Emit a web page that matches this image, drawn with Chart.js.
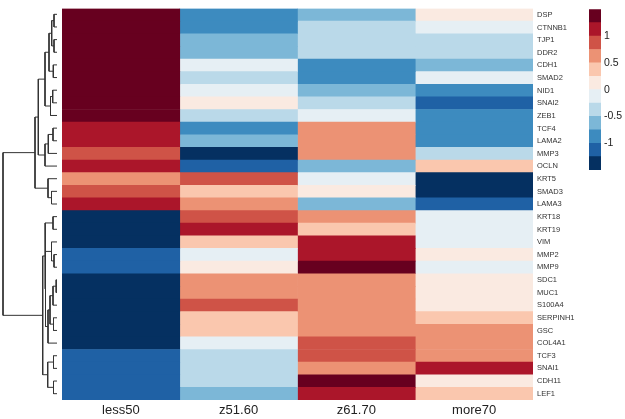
<!DOCTYPE html>
<html>
<head>
<meta charset="utf-8">
<script src="https://cdn.jsdelivr.net/npm/chart.js@4/dist/chart.umd.min.js"></script>
<style>
  html, body { margin: 0; padding: 0; background: #fff; }
  #wrap { position: relative; width: 625px; height: 419px; }
  #wrap canvas { position: absolute; left: 0; top: 0; }
</style>
</head>
<body>
<div id="wrap">
  <canvas id="heat" width="625" height="419"></canvas>
  <canvas id="tree" width="625" height="419"></canvas>
  <canvas id="key" width="625" height="419"></canvas>
</div>
<script>
const groups = ['less50', 'z51.60', 'z61.70', 'more70'];
const genes = ['DSP', 'CTNNB1', 'TJP1', 'DDR2', 'CDH1', 'SMAD2', 'NID1', 'SNAI2', 'ZEB1', 'TCF4',
  'LAMA2', 'MMP3', 'OCLN', 'KRT5', 'SMAD3', 'LAMA3', 'KRT18', 'KRT19', 'VIM', 'MMP2', 'MMP9',
  'SDC1', 'MUC1', 'S100A4', 'SERPINH1', 'GSC', 'COL4A1', 'TCF3', 'SNAI1', 'CDH11', 'LEF1'];

// row-scaled values, one list per group (same order as genes)
const less50 = [1.4, 1.4, 1.4, 1.4, 1.4, 1.4, 1.4, 1.4, 1.4, 1.1, 1.1, 0.9, 1.1, 0.6, 0.9, 1.1,
  -1.4, -1.4, -1.4, -1.1, -1.1, -1.4, -1.4, -1.4, -1.4, -1.4, -1.4, -1.1, -1.1, -1.1, -1.1];
const z51_60 = [-0.9, -0.9, -0.6, -0.6, -0.1, -0.4, -0.1, 0.1, -0.4, -0.9, -0.6, -1.4, -1.1, 0.9, 0.4, 0.6,
  0.9, 1.1, 0.4, -0.1, 0.1, 0.6, 0.6, 0.9, 0.4, 0.4, -0.1, -0.4, -0.4, -0.4, -0.6];
const z61_70 = [-0.6, -0.4, -0.4, -0.4, -0.9, -0.9, -0.6, -0.4, -0.1, 0.6, 0.6, 0.6, -0.6, -0.1, 0.1, -0.6,
  0.6, 0.4, 1.1, 1.1, 1.4, 0.6, 0.6, 0.6, 0.6, 0.6, 0.9, 0.9, 0.6, 1.4, 1.1];
const more70 = [0.1, -0.1, -0.4, -0.4, -0.6, -0.1, -0.9, -1.1, -0.9, -0.9, -0.9, -0.4, 0.4, -1.4, -1.4, -1.1,
  -0.1, -0.1, -0.1, 0.1, -0.1, 0.1, 0.1, 0.1, 0.4, 0.6, 0.6, 0.6, 1.1, 0.1, 0.4];

// colour key
const keyBreaks = [-1.5, -1.25, -1, -0.75, -0.5, -0.25, 0, 0.25, 0.5, 0.75, 1, 1.25, 1.5];
const keyColors = ['#053061', '#1f61a5', '#3d8bbf', '#7cb7d7', '#bad9e9', '#e6eff4',
  '#faeae1', '#fac7ae', '#ec9274', '#cf5347', '#ab162a', '#67001f'];
const keyTicks = [-1, -0.5, 0, 0.5, 1];

// row dendrogram, hclust style: negative = gene (1-based), positive = earlier merge
const merges = [
  [-1, -2, 0.3], [-3, -4, 0.3], [1, 2, 0.53], [-5, -6, 0.37], [3, 4, 0.8],
  [-7, -8, 0.43], [6, -9, 0.65], [5, 7, 1.2], [-10, -11, 0.4], [9, -12, 0.87],
  [10, -13, 1.2], [8, 11, 1.87], [-15, -16, 0.55], [-14, 13, 0.9], [12, 14, 2.2],
  [-17, -18, 0.4], [-20, -21, 0.3], [-19, 17, 0.55], [-22, -23, 0.08], [19, -24, 0.4],
  [-25, -26, 0.35], [20, 21, 0.7], [22, -27, 0.9], [18, 23, 1.15], [16, 24, 1.2],
  [-28, -29, 0.35], [-30, -31, 0.35], [26, 27, 0.93], [25, 28, 1.43], [15, 29, 5.4]
];

const font = 'Liberation Sans, Arial, Helvetica, sans-serif';

function colorFor(v) {
  let k = Math.floor((v - keyBreaks[0]) / 0.25);
  k = Math.max(0, Math.min(keyColors.length - 1, k));
  return keyColors[k];
}

const noPlugins = { legend: { display: false }, tooltip: { enabled: false } };

// Heatmap
const columns = [less50, z51_60, z61_70, more70];
new Chart(document.getElementById('heat'), {
  type: 'bar',
  data: {
    labels: genes,
    datasets: columns.map((vals, j) => ({
      label: groups[j],
      data: vals.map(() => [j, j + 1]),
      backgroundColor: vals.map(colorFor),
      borderWidth: 0,
      grouped: false,
      barPercentage: 1,
      categoryPercentage: 1
    }))
  },
  options: {
    indexAxis: 'y',
    responsive: false,
    animation: false,
    layout: { padding: { left: 62, top: 8, right: 0, bottom: 0 } },
    plugins: noPlugins,
    scales: {
      x: {
        type: 'linear', min: 0, max: 4,
        grid: { display: false, drawTicks: false },
        border: { display: false },
        afterBuildTicks: s => { s.ticks = groups.map((g, j) => ({ value: j + 0.5 })); },
        afterFit: s => { s.height = 19; },
        ticks: {
          padding: 3, maxRotation: 0, color: '#222',
          font: { family: font, size: 13 },
          callback: v => groups[Math.floor(v)]
        }
      },
      y: {
        position: 'right',
        grid: { display: false, drawTicks: false },
        border: { display: false },
        afterFit: s => { s.width = 92; },
        ticks: { autoSkip: false, padding: 4, color: '#333', font: { family: font, size: 7.5 } }
      }
    }
  }
});

// Dendrogram
const nodes = [];
function place(id) {
  if (id < 0) return { y: -id - 0.5, h: 0 };
  return nodes[id - 1];
}
const segments = merges.map(([a, b, h]) => {
  const A = place(a), B = place(b);
  nodes.push({ y: (A.y + B.y) / 2, h: h });
  return [{ x: A.h, y: A.y }, { x: h, y: A.y }, { x: h, y: B.y }, { x: B.h, y: B.y }];
});

new Chart(document.getElementById('tree'), {
  type: 'scatter',
  data: {
    datasets: segments.map(pts => ({
      data: pts, showLine: true, borderColor: '#333', borderWidth: 1,
      pointRadius: 0, fill: false, tension: 0
    }))
  },
  options: {
    responsive: false,
    animation: false,
    layout: { padding: { left: 0, right: 568, top: 8, bottom: 19 } },
    plugins: noPlugins,
    scales: {
      x: { display: false, type: 'linear', reverse: true, min: 0, max: 5.7 },
      y: { display: false, type: 'linear', reverse: true, min: 0, max: 31 }
    }
  }
});

// Colour key
new Chart(document.getElementById('key'), {
  type: 'bar',
  data: {
    labels: [''],
    datasets: keyColors.map((c, k) => ({
      data: [[keyBreaks[k], keyBreaks[k + 1]]],
      backgroundColor: c,
      borderWidth: 0,
      grouped: false,
      barPercentage: 1,
      categoryPercentage: 1
    }))
  },
  options: {
    responsive: false,
    animation: false,
    layout: { padding: { left: 589, top: 8.5, right: 0, bottom: 249 } },
    plugins: noPlugins,
    scales: {
      x: { display: false },
      y: {
        position: 'right', min: -1.5, max: 1.5,
        grid: { display: false, drawTicks: false },
        border: { display: false },
        afterBuildTicks: s => { s.ticks = keyTicks.map(v => ({ value: v })); },
        afterFit: s => { s.width = 24; },
        ticks: { padding: 3, color: '#222', font: { family: font, size: 10.5 }, callback: v => String(v) }
      }
    }
  }
});
</script>
</body>
</html>
